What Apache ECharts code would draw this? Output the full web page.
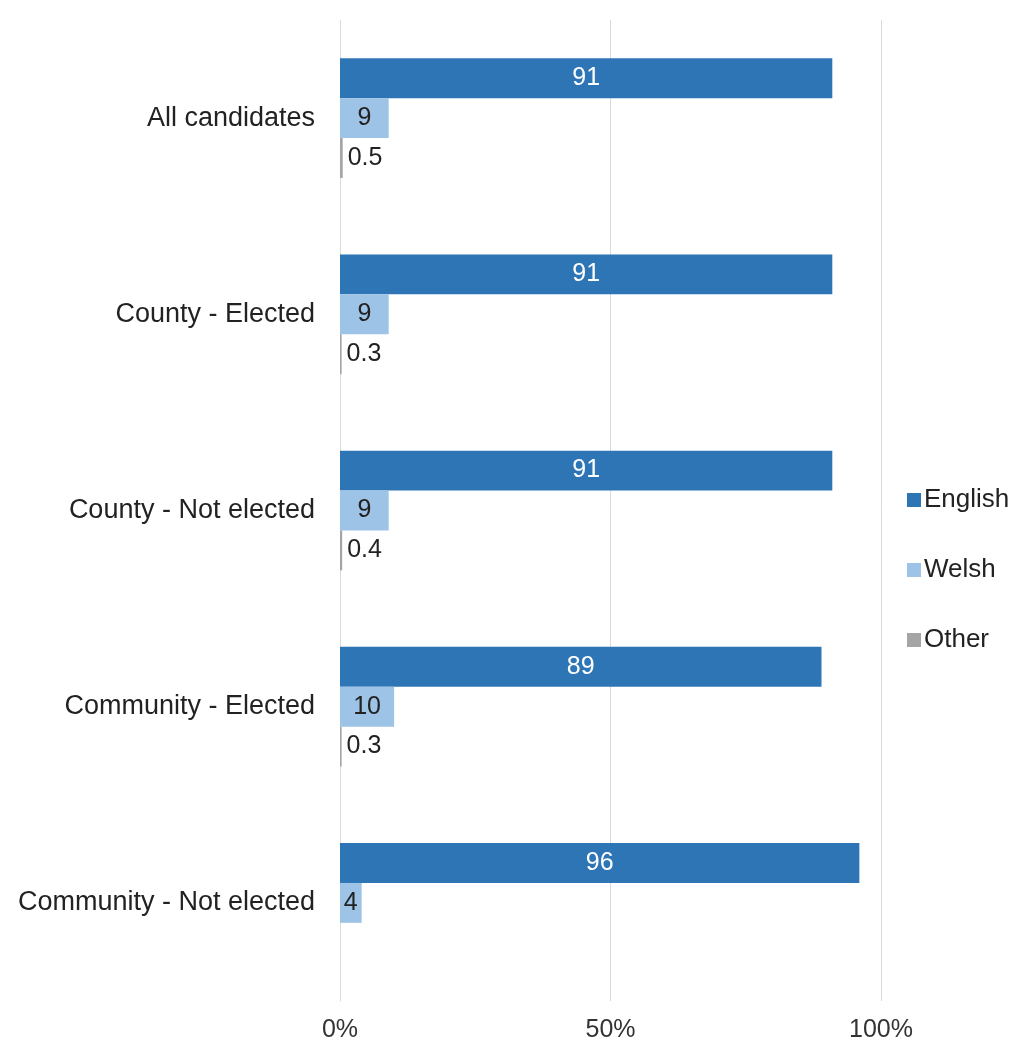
<!DOCTYPE html>
<html><head><meta charset="utf-8">
<script src="https://cdn.jsdelivr.net/npm/echarts@6/dist/echarts.min.js"></script>
<style>html,body{margin:0;padding:0;background:#fff}#c{width:1016px;height:1046px}</style>
</head><body><div id="c"></div>
<script>
const categories = ["All candidates", "County - Elected", "County - Not elected", "Community - Elected", "Community - Not elected"];
const english = [91, 91, 91, 89, 96];
const welsh = [9, 9, 9, 10, 4];
const other = [0.5, 0.3, 0.4, 0.3, null];
const xTicks = [0, 50, 100];

const chart = echarts.init(document.getElementById('c'));
const font = '"Liberation Sans", Arial, Helvetica, sans-serif';
chart.setOption({
  animation: false,
  textStyle: {fontFamily: font},
  legend: {
    orient: 'vertical', left: 902, top: 482, itemGap: 44,
    itemWidth: 14, itemHeight: 14, icon: 'rect',
    textStyle: {fontSize: 26, color: '#222', fontFamily: font, padding: [0,0,0,-2]},
    data: ['English', 'Welsh', 'Other']
  },
  grid: {left: 340, right: 135, top: 20, bottom: 45, containLabel: false},
  xAxis: {
    type: 'value', min: 0, max: 100, interval: 50,
    axisLabel: {formatter: v => xTicks.includes(v) ? v + '%' : '', fontSize: 25, color: '#333', margin: 17, fontFamily: font},
    splitLine: {lineStyle: {color: '#d9d9d9', width: 1}},
    axisLine: {show: false}, axisTick: {show: false}
  },
  yAxis: {
    type: 'category', data: categories, inverse: true,
    axisLabel: {fontSize: 27, color: '#222', margin: 25, fontFamily: font},
    axisLine: {lineStyle: {color: '#d9d9d9'}}, axisTick: {show: false}
  },
  series: [
    {name: 'English', type: 'bar', data: english, barGap: '0%', barCategoryGap: '39%',
     itemStyle: {color: '#2E75B6'},
     label: {show: true, position: 'inside', color: '#fff', fontSize: 25, fontFamily: font}},
    {name: 'Welsh', type: 'bar', data: welsh, barGap: '0%', barCategoryGap: '39%',
     itemStyle: {color: '#9DC3E6'},
     label: {show: true, position: 'inside', color: '#222', fontSize: 25, fontFamily: font}},
    {name: 'Other', type: 'bar', data: other, barGap: '0%', barCategoryGap: '39%',
     itemStyle: {color: '#A5A5A5'},
     label: {show: true, position: 'right', distance: 5, color: '#222', fontSize: 25, fontFamily: font}}
  ]
});
</script></body></html>
